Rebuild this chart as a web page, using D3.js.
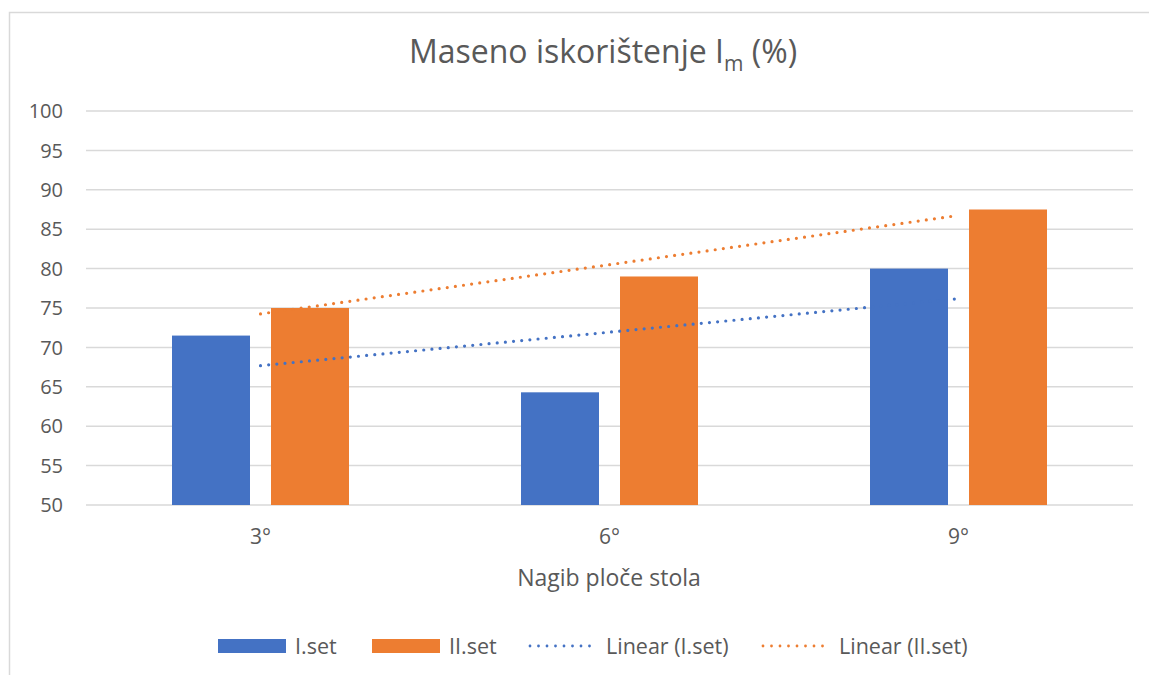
<!DOCTYPE html>
<html lang="hr">
<head>
<meta charset="UTF-8">
<title>Maseno iskorištenje</title>
<script src="https://d3js.org/d3.v7.min.js"></script>
<style>
    body { margin: 0; background: #fff; }
    text { font-family: "Open Sans", Lato, sans-serif; fill: #595959; }
    .grid line { stroke: #d9d9d9; stroke-width: 1.5px; }
</style>
</head>
<body>
<svg width="1149" height="675"></svg>
<script>
    // data
    var categories = ["3°", "6°", "9°"];
    var set1 = [71.5, 64.3, 80];
    var set2 = [75, 79, 87.5];
    var yTicks = [50, 55, 60, 65, 70, 75, 80, 85, 90, 95, 100];
    var seriesNames = ["I.set", "II.set"];
    var colors = ["#4472c4", "#ed7d31"];

    var svg = d3.select("svg");
    var plotL = 86, plotR = 1133, plotT = 111, plotB = 505;

    // chart frame
    svg.append("path")
        .attr("d", "M9.5,675 V12.5 H1149")
        .attr("fill", "none")
        .attr("stroke", "#d9d9d9")
        .attr("stroke-width", 1.5);

    var x = d3.scaleBand().domain(categories).range([plotL, plotR]);
    var y = d3.scaleLinear().domain([50, 100]).range([plotB, plotT]);
    var barW = 78, gap = 21;

    // gridlines
    svg.append("g").attr("class", "grid")
        .selectAll("line")
        .data(yTicks)
        .enter().append("line")
        .attr("x1", plotL).attr("x2", plotR)
        .attr("y1", d => y(d)).attr("y2", d => y(d));

    // y tick labels
    svg.append("g")
        .selectAll("text")
        .data(yTicks)
        .enter().append("text")
        .attr("x", 63)
        .attr("y", d => y(d))
        .attr("dy", "0.36em")
        .style("text-anchor", "end")
        .style("font-size", "20px")
        .text(d => d);

    // bars
    [set1, set2].forEach(function (vals, s) {
        svg.append("g")
            .selectAll("rect")
            .data(vals)
            .enter().append("rect")
            .attr("x", (d, i) => x(categories[i]) + x.bandwidth() / 2 + (s === 0 ? -gap / 2 - barW : gap / 2))
            .attr("y", d => y(d))
            .attr("width", barW)
            .attr("height", d => plotB - y(d))
            .attr("fill", colors[s]);
    });

    // linear trendlines (least squares over category index)
    function trend(vals) {
        var n = vals.length, xs = vals.map((d, i) => i + 1);
        var mx = d3.mean(xs), my = d3.mean(vals);
        var b = d3.sum(xs, (xi, i) => (xi - mx) * (vals[i] - my)) / d3.sum(xs, xi => (xi - mx) * (xi - mx));
        var a = my - b * mx;
        return [[1, a + b], [n, a + b * n]];
    }
    var cx = i => x(categories[i - 1]) + x.bandwidth() / 2;
    [set1, set2].forEach(function (vals, s) {
        var pts = trend(vals);
        svg.append("line")
            .attr("x1", cx(pts[0][0])).attr("y1", y(pts[0][1]))
            .attr("x2", cx(pts[1][0])).attr("y2", y(pts[1][1]))
            .attr("stroke", colors[s])
            .attr("stroke-width", 3.2)
            .attr("stroke-linecap", "round")
            .attr("stroke-dasharray", "0 8.2");
    });

    // category labels
    svg.append("g")
        .selectAll("text")
        .data(categories)
        .enter().append("text")
        .attr("x", d => x(d) + x.bandwidth() / 2)
        .attr("y", 544)
        .style("text-anchor", "middle")
        .style("font-size", "21px")
        .text(d => d);

    // axis title
    svg.append("text")
        .attr("x", 609).attr("y", 586)
        .style("text-anchor", "middle")
        .style("font-size", "23px")
        .text("Nagib ploče stola");

    // chart title
    var title = svg.append("text")
        .attr("x", 603).attr("y", 63)
        .style("text-anchor", "middle")
        .style("font-size", "32px");
    title.append("tspan").text("Maseno iskorištenje I");
    title.append("tspan").attr("dy", 8).style("font-size", "21px").text("m");
    title.append("tspan").attr("dy", -8).text(" (%)");

    // legend
    var legend = [
        {name: "I.set", type: "bar", color: colors[0], x: 218},
        {name: "II.set", type: "bar", color: colors[1], x: 372},
        {name: "Linear (I.set)", type: "line", color: colors[0], x: 529},
        {name: "Linear (II.set)", type: "line", color: colors[1], x: 762}
    ];
    var lg = svg.append("g");
    legend.forEach(function (d) {
        if (d.type === "bar") {
            lg.append("rect").attr("x", d.x).attr("y", 639).attr("width", 68).attr("height", 14).attr("fill", d.color);
        } else {
            lg.append("line").attr("x1", d.x + 1).attr("x2", d.x + 69).attr("y1", 646).attr("y2", 646)
                .attr("stroke", d.color).attr("stroke-width", 2.8)
                .attr("stroke-linecap", "round").attr("stroke-dasharray", "0 8.5");
        }
        lg.append("text").attr("x", d.x + 77).attr("y", 646).attr("dy", "0.36em")
            .style("font-size", "21.5px").text(d.name);
    });
</script>
</body>
</html>
